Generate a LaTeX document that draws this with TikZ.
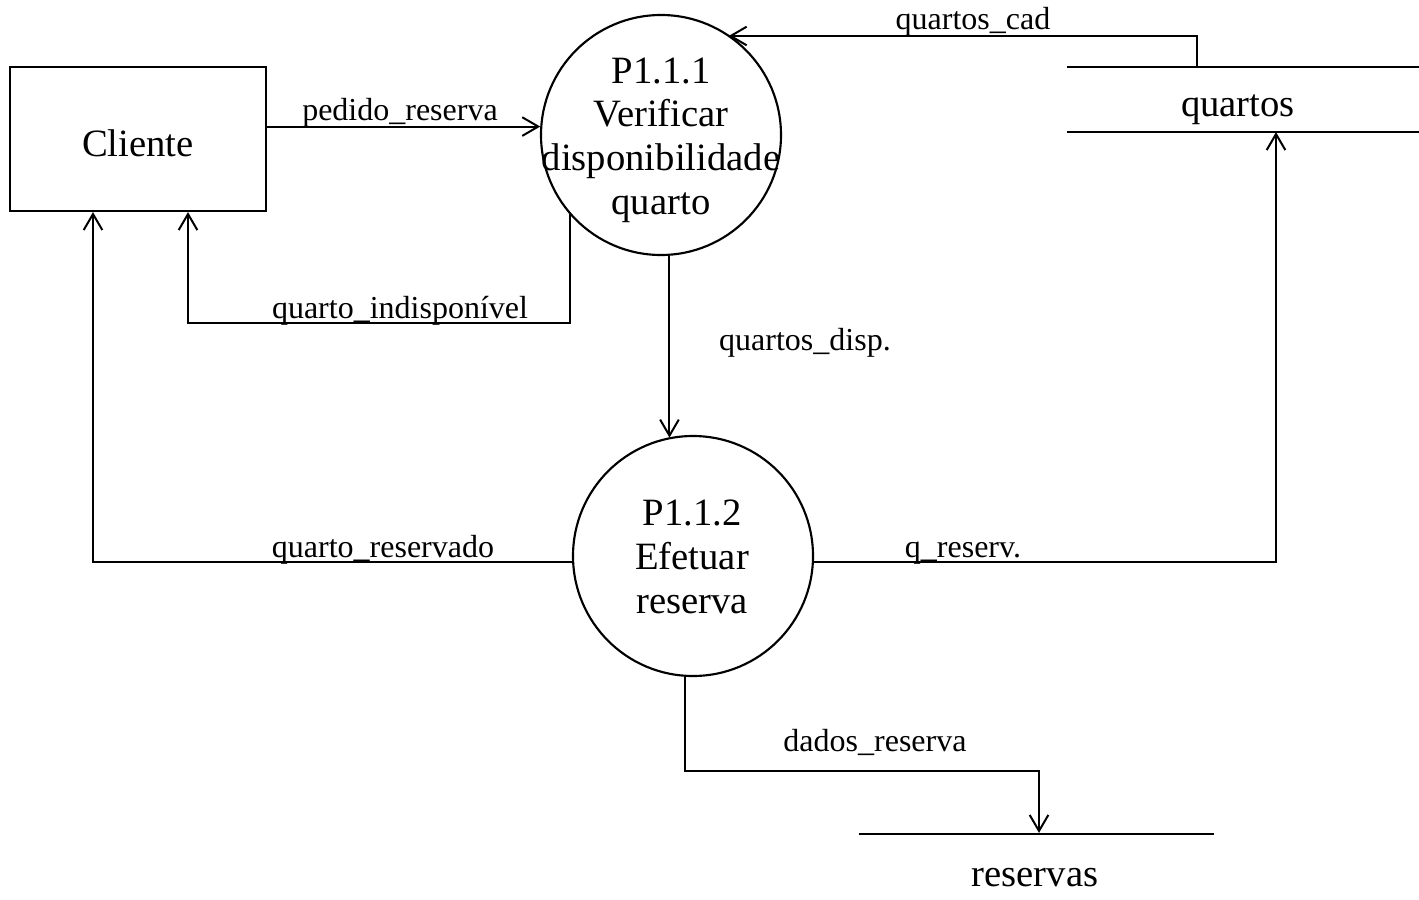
\documentclass[tikz,border=0pt]{standalone}
\usepackage{fontspec}
\setmainfont{Liberation Serif}
\usetikzlibrary{arrows.meta}
\begin{document}
\begin{tikzpicture}[x=0.75pt,y=-0.75pt,
  line width=1.6pt,
  flow/.style={-{Straight Barb[length=12pt,width=14pt,line width=1.5pt]}, line width=1.5pt},
  big/.style={font=\fontsize{29}{32.8}\selectfont},
  lbl/.style={font=\fontsize{24}{28}\selectfont, anchor=base, inner sep=0pt},
  entity/.style={draw, rectangle, minimum width=192pt, minimum height=108pt, inner sep=0pt, text height=26pt, text depth=0pt, big},
  proc/.style={draw, circle, minimum size=180pt, inner sep=0pt},
  proctext/.style={big, align=center, inner sep=0pt},
  store/.style={rectangle, inner sep=0pt}]
\useasboundingbox (0,0) rectangle (1419,899);

% entities and processes
\node[entity] (cliente) at (138,139) {Cliente};
\node[proc] (p1) at (661,135) {};
\node[proctext] (p1t) at (661,140) {P1.1.1\\Verificar\\disponibilidade\\quarto};
\node[proc] (p2) at (693,556) {};
\node[proctext] (p2t) at (692,557) {P1.1.2\\Efetuar\\reserva};

% data stores
\node[store, minimum width=263.25pt, minimum height=47.25pt] (qs) at (1243.5,99.5) {};
\draw (qs.north west) -- (qs.north east);
\draw (qs.south west) -- (qs.south east);
\node[big, anchor=base, inner sep=0pt] (qst) at (1238,116) {quartos};

\node[store, minimum width=264.75pt, minimum height=0pt] (rs) at (1036.5,834) {};
\draw (rs.west) -- (rs.east);
\node[big, anchor=base, inner sep=0pt] (rst) at (1035,886) {reservas};

% helper coordinates
\coordinate (qi) at (188,323);
\coordinate (qr) at (93,563);
\coordinate (qv) at (1276,563);
\coordinate (qc) at (1197,36);
\coordinate (dr) at (1039,771);

% flows
\draw[flow] (cliente.east |- p1.176) -- (p1.176);
\draw[flow] (p1.221) |- (qi) -- (qi |- cliente.south);
\draw[flow] (p1.274) -- (p1.274 |- p2.102);
\draw[flow] (p2.183.4) -| (qr |- cliente.south);
\draw[flow] (p2.-3.4) -| (qv |- qs.south);
\draw[flow] (qc |- qs.north) -- (qc) -- (qc -| p1.56);
\draw[flow] (p2.266) |- (dr) -- (dr |- rs.north);

% labels
\node[lbl] (l1) at (400,120) {pedido\_reserva};
\node[lbl] (l2) at (400,318) {quarto\_indisponível};
\node[lbl] (l3) at (805,350) {quartos\_disp.};
\node[lbl] (l4) at (383,557) {quarto\_reservado};
\node[lbl] (l5) at (963,557) {q\_reserv.};
\node[lbl] (l6) at (973,30) {quartos\_cad};
\node[lbl] (l7) at (875,751) {dados\_reserva};
\end{tikzpicture}
\end{document}
